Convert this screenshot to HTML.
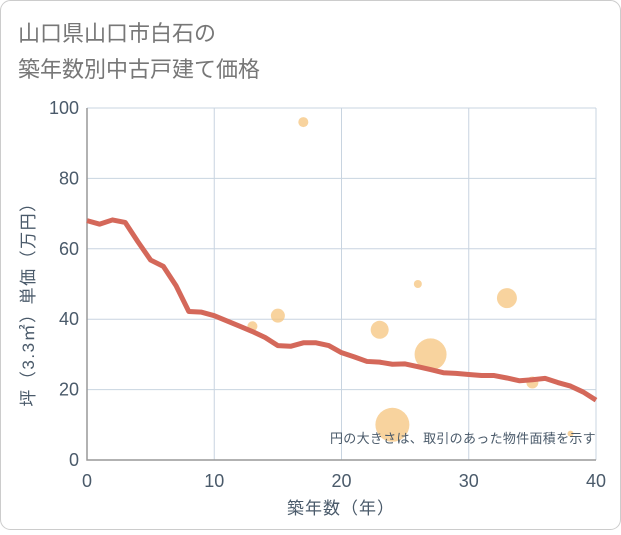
<!DOCTYPE html>
<html><head><meta charset="utf-8"><style>
body{margin:0;background:#fff}
svg text{font-family:"Liberation Sans","Noto Sans CJK JP",sans-serif}
</style></head><body>
<svg width="621" height="530" xmlns="http://www.w3.org/2000/svg">
<rect x="0.5" y="0.5" width="620" height="529" rx="10" fill="#fff" stroke="#ccc"/>
<text x="18" y="41" font-size="22" fill="#777">山口県山口市白石の</text>
<text x="18" y="77" font-size="22" fill="#777">築年数別中古戸建て価格</text>
<g id="grid"></g>
<g id="bubbles"></g>
<path id="line" fill="none" stroke="#d4685a" stroke-width="5" stroke-linejoin="round"/>
<g id="ticks"></g>
<text x="596" y="443" font-size="13" fill="#4a5a6a" text-anchor="end" letter-spacing="0.3">円の大きさは、取引のあった物件面積を示す</text>
<text x="341" y="514" font-size="17" fill="#4a5a6a" text-anchor="middle" letter-spacing="1">築年数（年）</text>
<text transform="translate(34,300) rotate(-90)" font-size="17" fill="#4a5a6a" text-anchor="middle" letter-spacing="1.5">坪（3.3㎡）単価（万円）</text>
</svg>
<script>
const xTicks=[0,10,20,30,40];
const yTicks=[0,20,40,60,80,100];
const lineYears=[0,1,2,3,4,5,6,7,8,9,10,11,12,13,14,15,16,17,18,19,20,21,22,23,24,25,26,27,28,29,30,31,32,33,34,35,36,37,38,39,40];
const linePrices=[68,67,68.2,67.5,62,56.8,55,49.5,42.2,42,41,39.5,38,36.5,34.8,32.5,32.3,33.3,33.3,32.5,30.5,29.3,28,27.8,27.2,27.3,26.5,25.7,24.8,24.6,24.3,24,24,23.3,22.5,22.8,23.2,22,21,19.3,17];
const bubbleYears=[17,26,33,15,13,23,27,24,35,38];
const bubblePrices=[96,50,46,41,38,37,30,10,22,7.5];
const bubbleSizes=[5,4,10,7,5,9,16,17,6,3];
const NS="http://www.w3.org/2000/svg";
const X0=87,X1=596,Y0=460,Y1=108;
const sx=v=>X0+(X1-X0)*v/40, sy=v=>Y0-(Y0-Y1)*v/100;
const grid=document.getElementById('grid'),ticks=document.getElementById('ticks'),bub=document.getElementById('bubbles');
function mk(t,a,p){const e=document.createElementNS(NS,t);for(const k in a)e.setAttribute(k,a[k]);p.appendChild(e);return e;}
xTicks.forEach(v=>{
 const l=mk('line',{x1:sx(v),x2:sx(v),y1:Y1,y2:Y0,stroke:'#c8d4e0'},grid);
 
 
 const t=mk('text',{x:sx(v),y:487,'font-size':18,fill:'#4a5a6a','text-anchor':'middle'},ticks);t.textContent=v;
 
 
});
yTicks.forEach(v=>{
 const l=mk('line',{x1:X0,x2:X1,y1:sy(v),y2:sy(v),stroke:'#c8d4e0'},grid);
 
 
 const t=mk('text',{x:79,y:sy(v)+6,'font-size':18,fill:'#4a5a6a','text-anchor':'end'},ticks);t.textContent=v;
 
 
});
const ax=mk('path',{d:`M${X0},${Y1}V${Y0}H${X1}`,fill:'none',stroke:'#999','stroke-width':1.5},grid);


bubbleYears.forEach((v,i)=>{
 const c=mk('circle',{cx:sx(v),cy:sy(bubblePrices[i]),r:bubbleSizes[i],fill:'#f5c47e','fill-opacity':0.75},bub);
 
 
});
document.getElementById('line').setAttribute('d',lineYears.map((v,i)=>(i?'L':'M')+sx(v)+','+sy(linePrices[i])).join(''));
</script>
</body></html>
